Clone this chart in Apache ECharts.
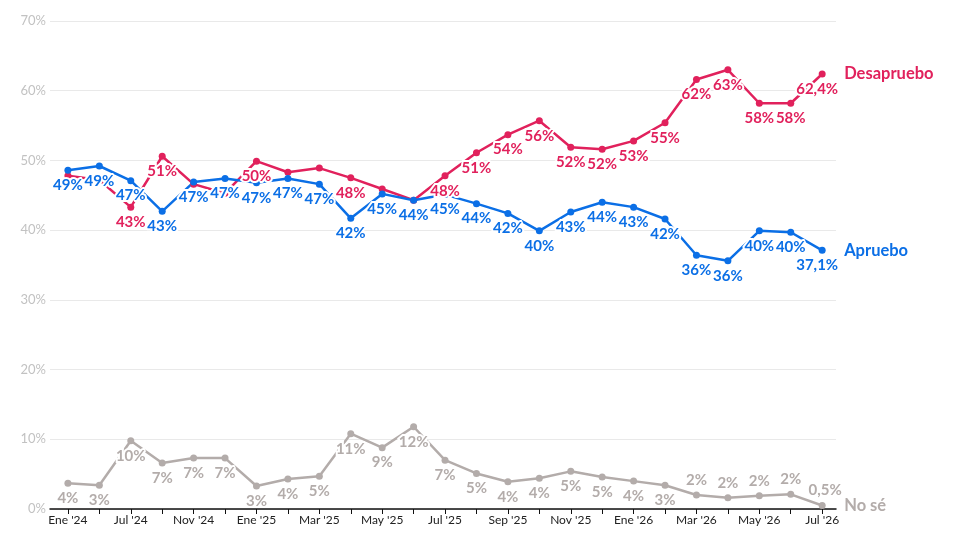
<!DOCTYPE html>
<html>
<head>
<meta charset="utf-8">
<script src="https://cdn.jsdelivr.net/npm/echarts@6/dist/echarts.min.js"></script>
<style>
  html, body { margin: 0; padding: 0; background: #fff; }
  #grafico { width: 969px; height: 546px; }
</style>
</head>
<body>
<div id="grafico"></div>
<script>
// Fechas de cada medición (solo las pares llevan etiqueta)
const fechas = ["Ene '24", "Abr '24", "Jul '24", "Sep '24", "Nov '24", "Dic '24", "Ene '25", "Feb '25",
  "Mar '25", "Abr '25", "May '25", "Jun '25", "Jul '25", "Ago '25", "Sep '25", "Oct '25", "Nov '25",
  "Dic '25", "Ene '26", "Feb '26", "Mar '26", "Abr '26", "May '26", "Jun '26", "Jul '26"];

const desapruebo = [47.8, 47.2, 43.3, 50.6, 46.6, 45.3, 49.9, 48.3, 48.9, 47.5, 45.9, 44.3, 47.8,
  51.1, 53.7, 55.7, 51.9, 51.6, 52.8, 55.4, 61.6, 63.0, 58.2, 58.2, 62.4];
const apruebo = [48.6, 49.2, 47.1, 42.7, 46.9, 47.4, 46.8, 47.4, 46.6, 41.7, 45.2, 44.3, 45.1,
  43.8, 42.4, 39.9, 42.6, 44.0, 43.3, 41.6, 36.4, 35.6, 39.9, 39.7, 37.1];
const noSe = [3.7, 3.4, 9.8, 6.6, 7.3, 7.3, 3.3, 4.3, 4.7, 10.8, 8.8, 11.8, 7.0,
  5.1, 3.9, 4.4, 5.4, 4.6, 4.0, 3.4, 2.0, 1.6, 1.9, 2.1, 0.5];

const ticksY = [0, 10, 20, 30, 40, 50, 60, 70];

// Etiquetas que no se muestran y las que van arriba del punto
const ocultasDesapruebo = [0, 1, 4, 5, 7, 8, 10, 11];
const arribaNoSe = [20, 21, 22, 23, 24];

const ROJO = '#e1215c';
const AZUL = '#0b6fe6';
const GRIS = '#b3acaa';
const FUENTE = 'Lato, "Noto Sans", sans-serif';

function textoValor(v, i) {
  if (i === fechas.length - 1) return v.toFixed(1).replace('.', ',') + '%';
  return Math.round(v) + '%';
}

function armarDatos(valores, opciones) {
  return valores.map((v, i) => {
    const item = { value: [i, v] };
    const label = {};
    if (opciones.ocultas && opciones.ocultas.includes(i)) label.show = false;
    if (opciones.arriba && opciones.arriba.includes(i)) label.position = 'top';
    if (i === valores.length - 1) label.offset = [opciones.dxFinal || 0, 0];
    item.label = label;
    return item;
  });
}

function serie(nombre, valores, color, opciones) {
  return {
    name: nombre,
    type: 'line',
    data: armarDatos(valores, opciones),
    symbol: 'circle',
    symbolSize: 7,
    lineStyle: { color: color, width: 2.5 },
    itemStyle: { color: color },
    label: {
      show: true,
      position: 'bottom',
      distance: 4,
      color: color,
      fontFamily: FUENTE,
      fontWeight: 'bold',
      fontSize: 15,
      textBorderColor: '#fff',
      textBorderWidth: 4,
      formatter: p => textoValor(p.value[1], p.dataIndex)
    },
    endLabel: {
      show: true,
      formatter: p => p.seriesName,
      color: color,
      fontFamily: FUENTE,
      fontWeight: 'bold',
      fontSize: 16.5,
      distance: 22
    },
    emphasis: { disabled: true },
    animation: false
  };
}

const chart = echarts.init(document.getElementById('grafico'));
chart.setOption({
  backgroundColor: '#fff',
  grid: { left: 50, right: 133, top: 21, bottom: 37 },
  xAxis: {
    type: 'value',
    min: -0.57,
    max: 24.44,
    splitLine: { show: false },
    axisLine: { show: true, lineStyle: { color: '#111', width: 1.5 } },
    axisTick: {
      show: true,
      length: 5,
      lineStyle: { color: '#111' },
      customValues: fechas.map((f, i) => i)
    },
    axisLabel: {
      color: '#222',
      fontFamily: FUENTE,
      fontSize: 12,
      margin: 5,
      customValues: fechas.map((f, i) => i).filter(i => i % 2 === 0),
      formatter: v => fechas[Math.round(v)]
    }
  },
  yAxis: {
    type: 'value',
    min: ticksY[0],
    max: ticksY[ticksY.length - 1],
    interval: 10,
    axisLine: { show: false },
    axisTick: { show: false },
    splitLine: { lineStyle: { color: '#e9e9e9', width: 1 } },
    axisLabel: {
      color: '#c2c2c2',
      fontFamily: FUENTE,
      fontSize: 13,
      margin: 4,
      formatter: v => v + '%'
    }
  },
  series: [
    serie('No sé', noSe, GRIS, { arriba: arribaNoSe, dxFinal: 3 }),
    serie('Desapruebo', desapruebo, ROJO, { ocultas: ocultasDesapruebo, dxFinal: -5 }),
    serie('Apruebo', apruebo, AZUL, { dxFinal: -5 })
  ]
});
</script>
</body>
</html>
